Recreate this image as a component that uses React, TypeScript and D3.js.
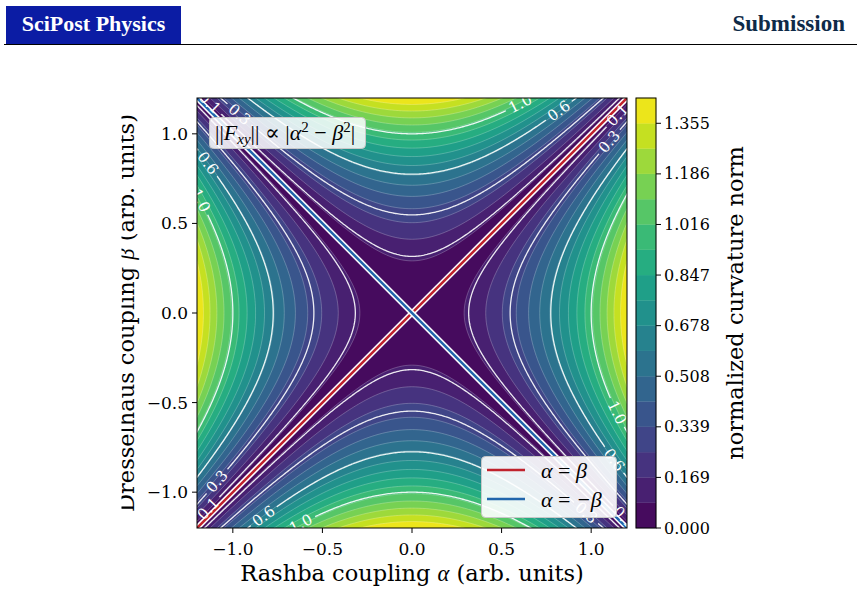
import React, { useMemo } from 'react';
import * as d3 from 'd3';

const W = 863;
const H = 592;

// axis domain and ticks
const axisDomain = [-1.2, 1.2];
const xTicks = [-1.0, -0.5, 0.0, 0.5, 1.0];
const yTicks = [-1.0, -0.5, 0.0, 0.5, 1.0];
const xTickLabels = ['−1.0', '−0.5', '0.0', '0.5', '1.0'];
const yTickLabels = ['−1.0', '−0.5', '0.0', '0.5', '1.0'];

// filled contour levels (18 levels -> 17 bands)
const fillLevels = [
  0, 0.08471, 0.16941, 0.25412, 0.33882, 0.42353, 0.50824, 0.59294, 0.67765,
  0.76235, 0.84706, 0.93176, 1.01647, 1.10118, 1.18588, 1.27059, 1.35529, 1.44,
];
const colorbarTickValues = [0, 0.16941, 0.33882, 0.50824, 0.67765, 0.84706, 1.01647, 1.18588, 1.35529];
const colorbarTickLabels = ['0.000', '0.169', '0.339', '0.508', '0.678', '0.847', '1.016', '1.186', '1.355'];

// labelled contour levels
const labeledLevels = [0.1, 0.3, 0.6, 1.0];
const labeledText = ['0.1', '0.3', '0.6', '1.0'];
// approximate label anchors (alpha, beta) for each labelled level
const labelAnchors: { level: number; a: number; b: number }[] = [
  { level: 0.1, a: -1.13, b: 1.17 },
  { level: 0.1, a: 1.15, b: 1.1 },
  { level: 0.1, a: -1.14, b: -1.09 },
  { level: 0.1, a: 1.18, b: -1.14 },
  { level: 0.3, a: -0.96, b: 1.11 },
  { level: 0.3, a: 1.1, b: 0.96 },
  { level: 0.3, a: -1.09, b: -0.94 },
  { level: 0.3, a: 0.97, b: -1.11 },
  { level: 0.6, a: -1.14, b: 0.84 },
  { level: 0.6, a: 0.82, b: 1.13 },
  { level: 0.6, a: -0.83, b: -1.13 },
  { level: 0.6, a: 1.13, b: -0.82 },
  { level: 1.0, a: -1.18, b: 0.63 },
  { level: 1.0, a: 0.61, b: 1.165 },
  { level: 1.0, a: -0.62, b: -1.175 },
  { level: 1.0, a: 1.14, b: -0.56 },
];

// diagonal lines
const diagSlopes = [1, -1];
const diagColors = ['#c0222c', '#2166ac'];
const diagLegend = ['β', '−β'];

// field as stated in the annotation: |alpha^2 - beta^2|
const field = (a: number, b: number) => Math.abs(a * a - b * b);

const PL = 197, PR = 627, PT = 98, PB = 528;
const CBL = 636, CBR = 656;

export default function App() {
  const xs = d3.scaleLinear().domain(axisDomain).range([PL, PR]);
  const ys = d3.scaleLinear().domain(axisDomain).range([PB, PT]);
  const cs = d3.scaleLinear().domain([fillLevels[0], fillLevels[fillLevels.length - 1]]).range([PB, PT]);
  const vmax = fillLevels[fillLevels.length - 1];

  const computed = useMemo(() => {
    const step = 0.008;
    const g0 = -1.26;
    const n = Math.round((2 * 1.26) / step) + 1;
    const values = new Float64Array(n * n);
    for (let j = 0; j < n; j++) {
      const b = g0 + j * step;
      for (let i = 0; i < n; i++) {
        const a = g0 + i * step;
        values[j * n + i] = field(a, b);
      }
    }
    const toA = (x: number) => g0 + (x - 0.5) * step;
    const proj = d3.geoTransform({
      point: function (x: number, y: number) {
        (this as any).stream.point(xs(toA(x)), ys(toA(y)));
      },
    });
    const path = d3.geoPath(proj);
    const arr = Array.from(values);
    const fillC = d3.contours().size([n, n]).thresholds(fillLevels.slice(0, fillLevels.length - 1))(arr);
    const fills = fillC.map((c, k) => ({
      d: path(c as any) || '',
      color: d3.interpolateViridis(((fillLevels[k] + fillLevels[k + 1]) / 2) / vmax),
    }));
    const thinC = d3.contours().size([n, n]).thresholds(fillLevels.slice(1, fillLevels.length - 1))(arr);
    const thin = thinC.map((c) => path(c as any) || '');
    const thickC = d3.contours().size([n, n]).thresholds(labeledLevels)(arr);
    const thick = thickC.map((c) => path(c as any) || '');

    const labels = labelAnchors.map((la) => {
      const li = labeledLevels.indexOf(la.level);
      const c = thickC[li];
      const tx = xs(la.a), ty = ys(la.b);
      let best = { d: Infinity, ring: [] as number[][], idx: 0 };
      c.coordinates.forEach((poly) => {
        poly.forEach((ring) => {
          const pts = ring.map((p) => [xs(toA(p[0])), ys(toA(p[1]))]);
          pts.forEach((p, idx) => {
            const dd = (p[0] - tx) ** 2 + (p[1] - ty) ** 2;
            if (dd < best.d) best = { d: dd, ring: pts, idx };
          });
        });
      });
      const r = best.ring;
      const m = r.length;
      const p = r[best.idx];
      const p0 = r[(best.idx - 3 + m) % m];
      const p1 = r[(best.idx + 3) % m];
      let ang = (Math.atan2(p1[1] - p0[1], p1[0] - p0[0]) * 180) / Math.PI;
      if (ang > 90) ang -= 180;
      if (ang <= -90) ang += 180;
      return { x: p[0], y: p[1], ang, text: labeledText[li] };
    });
    return { fills, thin, thick, labels };
  }, []);

  const serif = "'DejaVu Serif', serif";
  const math = "'Liberation Serif', 'DejaVu Serif', serif";

  return (
    <svg width={W} height={H} style={{ position: 'absolute', left: 0, top: 0, background: '#fff' }}>
      <defs>
        <clipPath id="plotclip">
          <rect x={PL} y={PT} width={PR - PL} height={PB - PT} />
        </clipPath>
        <clipPath id="ylabclip">
          <rect x={121.5} y={0} width={200} height={H} />
        </clipPath>
        <mask id="lblmask" maskUnits="userSpaceOnUse" x={0} y={0} width={W} height={H}>
          <rect x={0} y={0} width={W} height={H} fill="white" />
          {computed.labels.map((l, i) => (
            <rect key={i} x={-16} y={-7} width={32} height={14} fill="black"
              transform={`translate(${l.x},${l.y}) rotate(${l.ang})`} />
          ))}
        </mask>
      </defs>

      {/* header */}
      <rect x={6} y={6} width={175} height={38} fill="#0b1ca4" />
      <text x={93.5} y={31} textAnchor="middle" fill="#fff" fontFamily={math} fontWeight="bold" fontSize={22}>SciPost Physics</text>
      <text x={845} y={31} textAnchor="end" fill="#0e2a48" fontFamily={math} fontWeight="bold" fontSize={23}>Submission</text>
      <line x1={4} x2={857} y1={44.5} y2={44.5} stroke="#000" strokeWidth={1.2} />

      {/* plot */}
      <g clipPath="url(#plotclip)">
        {computed.fills.map((f, i) => (
          <path key={i} d={f.d} fill={f.color} stroke={f.color} strokeWidth={0.3} />
        ))}
        {computed.thin.map((d, i) => (
          <path key={i} d={d} fill="none" stroke="#fff" strokeOpacity={0.4} strokeWidth={0.6} />
        ))}
        <g mask="url(#lblmask)">
          {computed.thick.map((d, i) => (
            <path key={i} d={d} fill="none" stroke="#fff" strokeOpacity={0.9} strokeWidth={1.3} />
          ))}
        </g>
        {diagSlopes.map((s, i) => {
          const d = d3.line<number>().x((a) => xs(a)).y((a) => ys(s * a))(axisDomain) || '';
          return (
            <g key={i}>
              <path d={d} stroke="#fff" strokeWidth={5.5} fill="none" />
              <path d={d} stroke={diagColors[i]} strokeWidth={2.5} fill="none" />
            </g>
          );
        })}
      </g>
      {computed.labels.map((l, i) => (
        <text key={i} transform={`translate(${l.x},${l.y}) rotate(${l.ang})`} textAnchor="middle"
          dominantBaseline="central" fill="#fff" fontFamily={serif} fontSize={15}>{l.text}</text>
      ))}
      <rect x={PL} y={PT} width={PR - PL} height={PB - PT} fill="none" stroke="#000" strokeWidth={1} />

      {/* formula box */}
      <rect x={209.5} y={117.5} width={156} height={31} rx={4} fill="#fff" fillOpacity={0.85} stroke="#c8c8c8" />
      <text x={215} y={140} fontFamily={math} fontSize={22} fill="#000">
        <tspan>||</tspan>
        <tspan fontStyle="italic">F</tspan>
        <tspan fontStyle="italic" fontSize={15} dy={4}>xy</tspan>
        <tspan dy={-4}>|| ∝ |</tspan>
        <tspan fontStyle="italic">α</tspan>
        <tspan fontSize={15} dy={-8}>2</tspan>
        <tspan dy={8}> − </tspan>
        <tspan fontStyle="italic">β</tspan>
        <tspan fontSize={15} dy={-8}>2</tspan>
        <tspan dy={8}>|</tspan>
      </text>

      {/* legend */}
      <rect x={481.5} y={456.5} width={135} height={61} rx={4} fill="#fff" fillOpacity={0.9} stroke="#c8c8c8" />
      {diagLegend.map((lab, i) => (
        <g key={i}>
          <line x1={487} x2={525} y1={470 + i * 29} y2={470 + i * 29} stroke={diagColors[i]} strokeWidth={2.5} />
          <text x={541} y={478 + i * 29} fontFamily={math} fontSize={22} fill="#000">
            <tspan fontStyle="italic">α</tspan>
            <tspan> = </tspan>
            <tspan fontStyle="italic">{lab}</tspan>
          </text>
        </g>
      ))}

      {/* x axis */}
      {xTicks.map((t, i) => (
        <g key={i}>
          <line x1={xs(t)} x2={xs(t)} y1={PB} y2={PB + 5} stroke="#000" />
          <text x={xs(t)} y={555} textAnchor="middle" fontFamily={serif} fontSize={17} fill="#000">{xTickLabels[i]}</text>
        </g>
      ))}
      <text x={412} y={581} textAnchor="middle" fontFamily={serif} fontSize={22.5} fill="#000">
        Rashba coupling <tspan fontFamily={math} fontStyle="italic">α</tspan> (arb. units)
      </text>

      {/* y axis */}
      {yTicks.map((t, i) => (
        <g key={i}>
          <line x1={PL - 5} x2={PL} y1={ys(t)} y2={ys(t)} stroke="#000" />
          <text x={188} y={ys(t)} textAnchor="end" dominantBaseline="central" fontFamily={serif} fontSize={17} fill="#000">{yTickLabels[i]}</text>
        </g>
      ))}
      <g clipPath="url(#ylabclip)">
        <text transform={`translate(134,313) rotate(-90)`} textAnchor="middle" fontFamily={serif} fontSize={22.5} fill="#000">
          Dresselhaus coupling <tspan fontFamily={math} fontStyle="italic">β</tspan> (arb. units)
        </text>
      </g>

      {/* colorbar */}
      {fillLevels.slice(0, fillLevels.length - 1).map((lv, k) => {
        const col = d3.interpolateViridis(((lv + fillLevels[k + 1]) / 2) / vmax);
        return (
          <rect key={k} x={CBL} width={CBR - CBL} y={cs(fillLevels[k + 1])} height={cs(lv) - cs(fillLevels[k + 1])}
            fill={col} stroke={col} strokeWidth={0.3} />
        );
      })}
      <rect x={CBL} y={PT} width={CBR - CBL} height={PB - PT} fill="none" stroke="#000" strokeWidth={1} />
      {colorbarTickValues.map((t, i) => (
        <g key={i}>
          <line x1={CBR} x2={CBR + 5} y1={cs(t)} y2={cs(t)} stroke="#000" />
          <text x={664} y={cs(t)} dominantBaseline="central" fontFamily={serif} fontSize={16} fill="#000">{colorbarTickLabels[i]}</text>
        </g>
      ))}
      <text transform={`translate(743,303) rotate(-90)`} textAnchor="middle" fontFamily={serif} fontSize={22.5} fill="#000">
        normalized curvature norm
      </text>
    </svg>
  );
}
